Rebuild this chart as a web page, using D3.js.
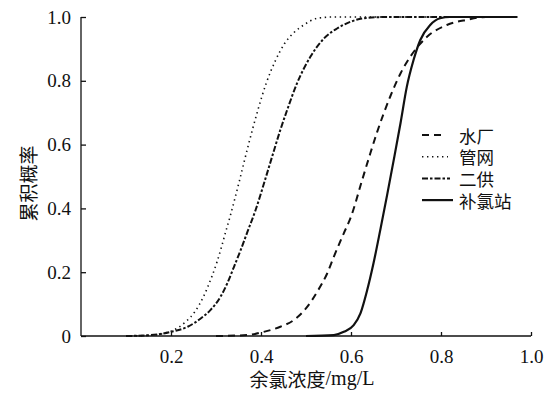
<!DOCTYPE html>
<html>
<head>
<meta charset="utf-8">
<script src="https://cdn.jsdelivr.net/npm/d3@7"></script>
</head>
<body style="margin:0">
<script>
const width = 554, height = 394;
const serifName = "Liberation Serif";
const cjkName = "Noto Sans CJK SC";

// 余氯浓度 (mg/L) vs 累积概率
const seriesNames = ["水厂", "管网", "二供", "补氯站"];

const shuichangX = [0.30, 0.370, 0.406, 0.443, 0.473, 0.503, 0.525, 0.547, 0.562, 0.584, 0.599, 0.625, 0.643, 0.658, 0.687, 0.710, 0.732, 0.769, 0.813, 0.857, 0.90, 0.97];
const shuichangY = [0, 0.003, 0.013, 0.029, 0.050, 0.092, 0.139, 0.196, 0.249, 0.322, 0.37, 0.49, 0.573, 0.639, 0.750, 0.823, 0.876, 0.938, 0.975, 0.991, 1.0, 1.0];

const guanwangX = [0.10, 0.15, 0.196, 0.233, 0.253, 0.272, 0.282, 0.292, 0.302, 0.312, 0.321, 0.332, 0.342, 0.352, 0.362, 0.372, 0.392, 0.412, 0.432, 0.452, 0.473, 0.495, 0.525, 0.56, 0.97];
const guanwangY = [0, 0.002, 0.013, 0.045, 0.076, 0.123, 0.155, 0.191, 0.231, 0.278, 0.324, 0.378, 0.431, 0.486, 0.543, 0.599, 0.703, 0.794, 0.863, 0.916, 0.951, 0.975, 0.996, 1.0, 1.0];

const ergongX = [0.10, 0.155, 0.200, 0.237, 0.266, 0.288, 0.310, 0.325, 0.340, 0.355, 0.370, 0.388, 0.410, 0.421, 0.443, 0.458, 0.480, 0.510, 0.540, 0.569, 0.599, 0.628, 0.68, 0.97];
const ergongY = [0, 0.003, 0.013, 0.029, 0.055, 0.082, 0.123, 0.165, 0.217, 0.270, 0.327, 0.395, 0.494, 0.545, 0.646, 0.708, 0.792, 0.876, 0.933, 0.964, 0.985, 0.996, 1.0, 1.0];

const buluX = [0.50, 0.562, 0.584, 0.606, 0.621, 0.636, 0.650, 0.665, 0.680, 0.695, 0.710, 0.724, 0.739, 0.754, 0.776, 0.798, 0.82, 0.97];
const buluY = [0, 0.003, 0.013, 0.034, 0.071, 0.144, 0.228, 0.332, 0.44, 0.552, 0.667, 0.781, 0.865, 0.928, 0.975, 0.996, 1.0, 1.0];

const xTicks = [0.2, 0.4, 0.6, 0.8, 1.0];
const yTicks = [0, 0.2, 0.4, 0.6, 0.8, 1.0];

const svg = d3.select("body")
    .append("svg")
    .attr("width", width)
    .attr("height", height)
    .style("font-family", `'${serifName}'`);

const x = d3.scaleLinear().domain([0, 1]).range([81, 531]);
const y = d3.scaleLinear().domain([0, 1]).range([336, 17]);

const fmt = d3.format(".1f");

// axes, ticks pointing inward
const xAxis = svg.append("g")
    .attr("transform", `translate(0,${y(0)})`)
    .call(d3.axisBottom(x).tickValues(xTicks).tickSizeInner(-4).tickSizeOuter(0)
        .tickPadding(14).tickFormat(fmt));
xAxis.select(".domain").attr("d", `M${x(0)},0H${x(1)}`);

const yAxis = svg.append("g")
    .attr("transform", `translate(${x(0)},0)`)
    .call(d3.axisLeft(y).tickValues(yTicks).tickSizeInner(-5).tickSizeOuter(0)
        .tickPadding(10).tickFormat(d => d === 0 ? "0" : fmt(d)));
yAxis.select(".domain").attr("d", `M0,${y(0)}V${y(1)}`);

[xAxis, yAxis].forEach(a => {
    a.attr("font-family", null).attr("font-size", null);
    a.selectAll("path, line").attr("stroke", "#111").attr("stroke-width", 1.3);
    a.selectAll("text")
        .style("font-family", `'${serifName}'`)
        .style("font-size", "19px")
        .attr("fill", "#111");
});

// axis labels
const xTitle = svg.append("text")
    .attr("x", 312)
    .attr("y", 378)
    .attr("dominant-baseline", "central")
    .attr("text-anchor", "middle")
    .attr("fill", "#111")
    .style("font-size", "19px");
xTitle.append("tspan").style("font-family", `'${cjkName}'`).text("余氯浓度");
xTitle.append("tspan")
    .style("font-family", `'${serifName}'`)
    .style("font-size", "20px")
    .text("/mg/L");

svg.append("text")
    .attr("transform", `translate(27,${y(0.5) + 7}) rotate(-90)`)
    .attr("dominant-baseline", "central")
    .attr("text-anchor", "middle")
    .attr("fill", "#111")
    .style("font-family", `'${cjkName}'`)
    .style("font-size", "19px")
    .text("累积概率");

const line = d3.line()
    .x(d => x(d[0]))
    .y(d => y(d[1]))
    .curve(d3.curveMonotoneX);

const styles = [
    { dash: "7,5", w: 2 },
    { dash: "1.4,3.6", w: 1.6 },
    { dash: "6,2,2.5,2", w: 2 },
    { dash: null, w: 2.2 }
];

const series = [
    d3.zip(shuichangX, shuichangY),
    d3.zip(guanwangX, guanwangY),
    d3.zip(ergongX, ergongY),
    d3.zip(buluX, buluY)
];

series.forEach((s, i) => {
    svg.append("path")
        .attr("d", line(s))
        .attr("fill", "none")
        .attr("stroke", "#111")
        .attr("stroke-width", styles[i].w)
        .attr("stroke-dasharray", styles[i].dash);
});

// legend
const legendLen = [24, 26, 28, 31];
const legend = svg.append("g").attr("transform", "translate(422,135)");
seriesNames.forEach((name, i) => {
    const row = legend.append("g").attr("transform", `translate(0,${i * 21.7})`);
    row.append("line")
        .attr("x1", 0).attr("x2", legendLen[i])
        .attr("y1", 0).attr("y2", 0)
        .attr("stroke", "#111")
        .attr("stroke-width", styles[i].w)
        .attr("stroke-dasharray", styles[i].dash);
    row.append("text")
        .attr("x", 37)
        .attr("y", 0)
        .attr("dominant-baseline", "central")
        .attr("fill", "#111")
        .style("font-family", `'${cjkName}'`)
        .style("font-size", "17.5px")
        .text(name);
});
</script>
</body>
</html>
